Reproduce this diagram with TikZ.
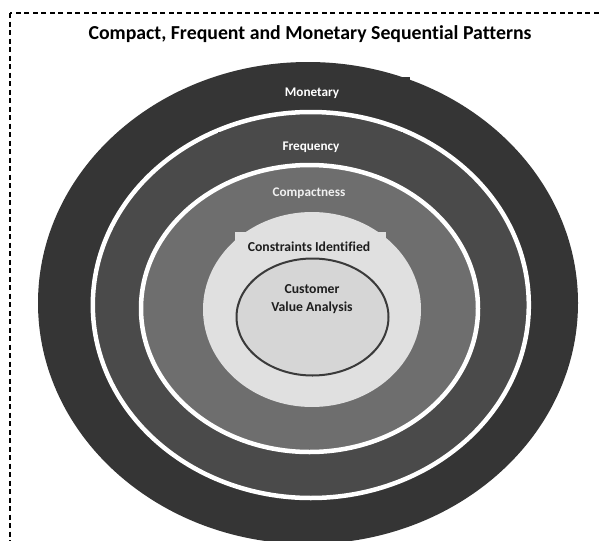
\documentclass[tikz,border=0pt]{standalone}
\usepackage{fontspec}
\setmainfont{Carlito}[Ligatures=NoCommon]
\usetikzlibrary{shapes.geometric}
\definecolor{ringA}{HTML}{353535}
\definecolor{ringB}{HTML}{4A4A4A}
\definecolor{ringC}{HTML}{6E6E6E}
\definecolor{coreFill}{HTML}{E0E0E0}
\definecolor{cvaFill}{HTML}{D6D6D6}
\definecolor{cvaLine}{HTML}{3A3A3A}
\definecolor{darkText}{HTML}{1E1E1E}
\begin{document}
\begin{tikzpicture}[x=1pt,y=-1pt,
  lighttext/.style={text=white,font=\bfseries\fontsize{13.2}{15}\selectfont,inner sep=0pt},
  darktext/.style={text=darkText,font=\bfseries\fontsize{13.7}{15}\selectfont,inner sep=0pt,align=center},
  separator/.style={draw=white,line width=4.5pt}]
\useasboundingbox (0,0) rectangle (600,541);
\fill[white] (0,0) rectangle (600,541);
% frame
\draw[black,line width=1.2pt,dash pattern=on 5pt off 3.5pt] (10,13) rectangle (620,560);
% title
\node[font=\bfseries\fontsize{19.8}{22}\selectfont,inner sep=0pt] (title) at (310,34) {Compact, Frequent and Monetary Sequential Patterns};
% monetary ring
\fill[ringA] (308,303) ellipse [x radius=270, y radius=241];
\fill[ringA] (214,77) rectangle (410,108);
% frequency ring
\path[fill=ringB,separator] (310.8,305) ellipse [x radius=218, y radius=193];
\fill[ringB] (218,132) rectangle (403,160);
% compactness ring
\path[fill=ringC,separator] (309.5,308.5) ellipse [x radius=168.5, y radius=143.5];
% constraints
\fill[coreFill] (312,309.5) ellipse [x radius=109, y radius=97.5];
\fill[coreFill] (235,232) rectangle (386,262);
% customer value analysis core
\path[fill=cvaFill,draw=cvaLine,line width=2pt] (312.5,317) ellipse [x radius=76, y radius=58.5];
% labels
\node[lighttext] (monetary) at (312,93) {Monetary};
\node[lighttext] (frequency) at (311,147) {Frequency};
\node[lighttext,text=white!94!black] (compactness) at (309,193) {Compactness};
\node[darktext] (constraints) at (309,247) {Constraints Identified};
\node[darktext] (customer) at (312,289) {Customer};
\node[darktext] (value) at (312,308) {Value Analysis};
\end{tikzpicture}
\end{document}
